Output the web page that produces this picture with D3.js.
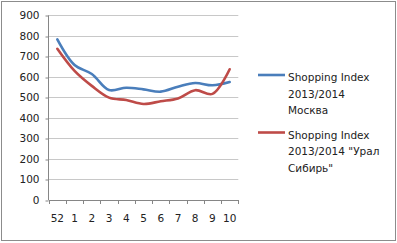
<!DOCTYPE html>
<html><head><meta charset="utf-8">
<script src="https://cdn.jsdelivr.net/npm/d3@7"></script>
<style>body{margin:0;background:#fff}svg{display:block}</style>
</head><body>
<script>
const categories = ["52","1","2","3","4","5","6","7","8","9","10"];
const moscow = [783,658,614,536,547,539,528,552,570,559,575];
const ural = [737,629,556,499,487,468,481,495,535,517,637];
const yTicks = [0,100,200,300,400,500,600,700,800,900];
const seriesNames = [["Shopping Index","2013/2014","Москва"],["Shopping Index","2013/2014 \"Урал","Сибирь\""]];
const colors = ["#4a7ebb","#be4b48"];

const W=397,H=243;
const svg=d3.select("body").append("svg").attr("width",W).attr("height",H);
svg.append("rect").attr("x",1.5).attr("y",1.5).attr("width",394).attr("height",239).attr("fill","#fff").attr("stroke","#8c8c8c");

const x=d3.scaleBand().domain(categories).range([48.7,238.3]);
const y=d3.scaleLinear().domain([0,900]).range([200,15.3]);
const font="DejaVu Sans";

// gridlines
svg.append("g").selectAll("line").data(yTicks.filter(d=>d>0)).join("line")
 .attr("x1",48.7).attr("x2",238.3).attr("y1",d=>Math.round(y(d))+0.5).attr("y2",d=>Math.round(y(d))+0.5)
 .attr("stroke","#c8c8c8");

const yAxis=svg.append("g").attr("transform","translate(48.5,0)")
 .call(d3.axisLeft(y).tickValues(yTicks).tickSize(3).tickPadding(6).tickFormat(d3.format("d")));
yAxis.selectAll("line").attr("stroke","#868686").attr("transform",d=>`translate(0,${Math.round(y(d))+0.5-y(d)})`);
yAxis.select(".domain").attr("stroke","#868686").attr("d","M0,15.3V200");
yAxis.selectAll("text").attr("font-family",font).attr("font-size",10.5).attr("fill","#222");

const xAxis=svg.append("g").attr("transform","translate(0,200.5)")
 .call(d3.axisBottom(x).tickSize(0).tickPadding(14));
xAxis.select(".domain").attr("stroke","#868686").attr("d","M48.7,0H238.3");
xAxis.selectAll("text").attr("font-family",font).attr("font-size",10.5).attr("fill","#222");
svg.append("g").selectAll("line").data(categories.concat(["end"])).join("line")
 .attr("x1",(d,i)=>Math.round(48.7+i*x.step())+0.5).attr("x2",(d,i)=>Math.round(48.7+i*x.step())+0.5)
 .attr("y1",200).attr("y2",204).attr("stroke","#868686");

const line=d3.line().x((d,i)=>x(categories[i])+x.bandwidth()/2).y(d=>y(d)).curve(d3.curveCatmullRom.alpha(0.5));
[moscow,ural].forEach((s,k)=>{
 svg.append("path").attr("d",line(s)).attr("fill","none").attr("stroke",colors[k]).attr("stroke-width",2.6).attr("stroke-linecap","round");
});

// legend
const legY=[75,132.5];
seriesNames.forEach((names,k)=>{
 svg.append("line").attr("x1",258).attr("x2",285).attr("y1",legY[k]).attr("y2",legY[k]).attr("stroke",colors[k]).attr("stroke-width",2.6);
 names.forEach((t,j)=>{
  svg.append("text").attr("x",288).attr("y",legY[k]+6+j*16.5).text(t)
   .attr("font-family",font).attr("font-size",10.5).attr("fill","#222");
 });
});
</script>
</body></html>
